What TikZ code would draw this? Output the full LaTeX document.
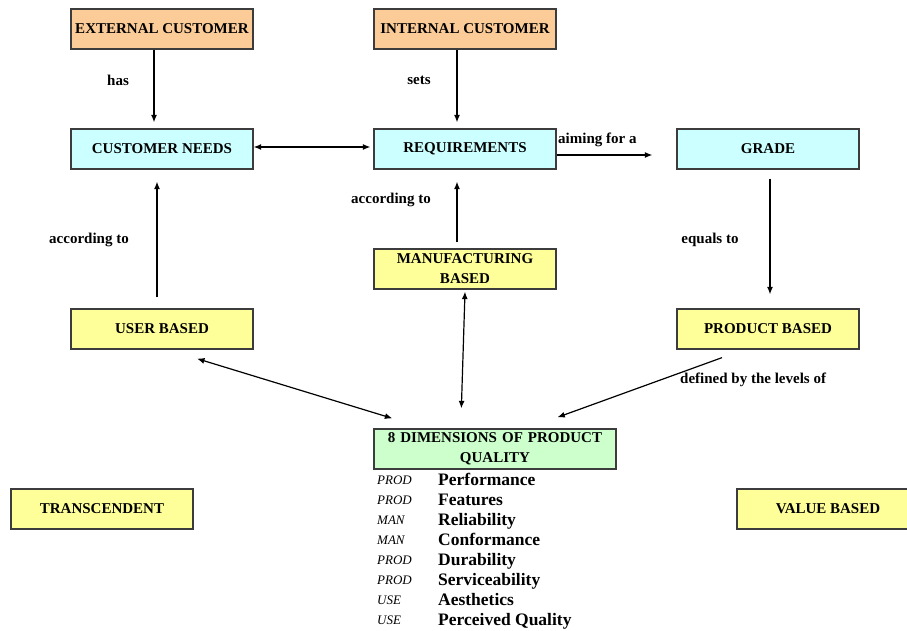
\documentclass[tikz,border=0pt]{standalone}
\usepackage{fontspec}
\setmainfont{Liberation Serif}
\usetikzlibrary{arrows.meta,calc}
\definecolor{boxline}{HTML}{3C3C3C}
\definecolor{orangefill}{HTML}{FCCC98}
\definecolor{cyanfill}{HTML}{CCFFFF}
\definecolor{yellowfill}{HTML}{FFFF99}
\definecolor{greenfill}{HTML}{CCFFCC}
\tikzset{
  box/.style={draw=boxline, line width=1.3pt, minimum width=182pt, minimum height=40pt,
    inner sep=2pt, align=center, font=\fontsize{15}{16}\selectfont\bfseries},
  orangebox/.style={box, fill=orangefill},
  cyanbox/.style={box, fill=cyanfill},
  yellowbox/.style={box, fill=yellowfill},
  greenbox/.style={box, fill=greenfill},
  lbl/.style={font=\fontsize{15}{16}\selectfont\bfseries, inner sep=0pt},
  arr/.style={line width=1.2pt, -{Latex[length=7.5pt,width=6pt]}},
  darr/.style={line width=1.2pt, {Latex[length=7.5pt,width=6pt]}-{Latex[length=7.5pt,width=6pt]}},
  tag/.style={font=\fontsize{13}{15}\selectfont\itshape, anchor=base west, inner sep=0pt},
  dimword/.style={font=\fontsize{17.5}{19}\selectfont\bfseries, anchor=base west, inner sep=0pt}
}
\begin{document}
\begin{tikzpicture}[x=1pt,y=-1pt]
\useasboundingbox (0,0) rectangle (907,631);

% boxes
\node[orangebox] (ext) at (162,29) {EXTERNAL CUSTOMER};
\node[orangebox] (int) at (465,29) {INTERNAL CUSTOMER};
\node[cyanbox] (needs) at (162,149) {CUSTOMER NEEDS};
\node[cyanbox] (req) at (465,149) {REQUIREMENTS};
\node[cyanbox] (grade) at (768,149) {GRADE};
\node[yellowbox, text width=170pt, font=\fontsize{15}{20}\selectfont\bfseries] (manuf) at (465,269) {MANUFACTURING\\BASED};
\node[yellowbox] (user) at (162,329) {USER BASED};
\node[yellowbox] (prod) at (768,329) {PRODUCT BASED};
\node[greenbox, minimum width=242pt, text width=236pt, font=\fontsize{15}{20}\selectfont\bfseries] (dims) at (495,449) {8 DIMENSIONS OF PRODUCT\\QUALITY};
\node[yellowbox] (trans) at (102,509) {TRANSCENDENT};
\node[yellowbox] (value) at (828,509) {VALUE BASED};

% connector end points
\coordinate (extBot) at ($(ext.south)+(-8,0)$);
\coordinate (needsTop) at ($(needs.north)+(-8,-6)$);
\coordinate (intBot) at ($(int.south)+(-8,0)$);
\coordinate (reqTop) at ($(req.north)+(-8,-6)$);
\coordinate (userTop) at ($(user.north)+(-5,-11)$);
\coordinate (needsBot) at ($(needs.south)+(-5,12)$);
\coordinate (gradeBot) at ($(grade.south)+(2,9)$);
\coordinate (prodTop) at ($(prod.north)+(2,-14)$);
\coordinate (reqRight) at ($(req.east)+(0,6)$);
\coordinate (gradeLeft) at ($(grade.west)+(-24,6)$);
\coordinate (needsRight) at ($(needs.east)+(0,-2)$);
\coordinate (reqLeft) at ($(req.west)+(-3,-2)$);
\coordinate (manufTop) at ($(manuf.north)+(-8,-6)$);
\coordinate (reqBot) at ($(req.south)+(-8,12)$);
\coordinate (dimsTop) at ($(dims.north west)+(88,-20)$);
\coordinate (manufBot) at ($(manuf.south)+(0,2)$);
\coordinate (dimsLeft) at ($(dims.north west)+(19,-10)$);
\coordinate (userBot) at ($(user.south)+(35,9)$);
\coordinate (prodBot) at ($(prod.south)+(-46,8)$);
\coordinate (dimsRight) at ($(dims.north west)+(184,-11)$);

% connectors
\draw[arr] (extBot) -- (needsTop);
\draw[arr] (intBot) -- (reqTop);
\draw[darr] (needsRight) -- (reqLeft);
\draw[arr] (reqRight) -- (gradeLeft);
\draw[arr] (gradeBot) -- (prodTop);
\draw[arr] (userTop) -- (needsBot);
\draw[arr] (manufTop) -- (reqBot);
\draw[darr] (dimsTop) -- (manufBot);
\draw[darr] (dimsLeft) -- (userBot);
\draw[arr] (prodBot) -- (dimsRight);

% connector labels
\node[lbl] (lhas) at (118,80) {has};
\node[lbl] (lsets) at (419,80) {sets};
\node[lbl, anchor=west] (laim) at (558,140) {aiming for a};
\node[lbl] (leq) at (710,240) {equals to};
\node[lbl] (lacc1) at (89,240) {according to};
\node[lbl] (lacc2) at (391,200) {according to};
\node[lbl, anchor=west] (ldef) at (680,380) {defined by the levels of};

% list of the eight dimensions
\foreach \t/\d [count=\i from 0] in {PROD/Performance, PROD/Features, MAN/Reliability,
    MAN/Conformance, PROD/Durability, PROD/Serviceability, USE/Aesthetics, USE/Perceived Quality}{
  \node[tag] (tag\i) at (377,{484+20*\i}) {\t};
  \node[dimword] (dim\i) at (438,{485+20*\i}) {\d};
}
\end{tikzpicture}
\end{document}
